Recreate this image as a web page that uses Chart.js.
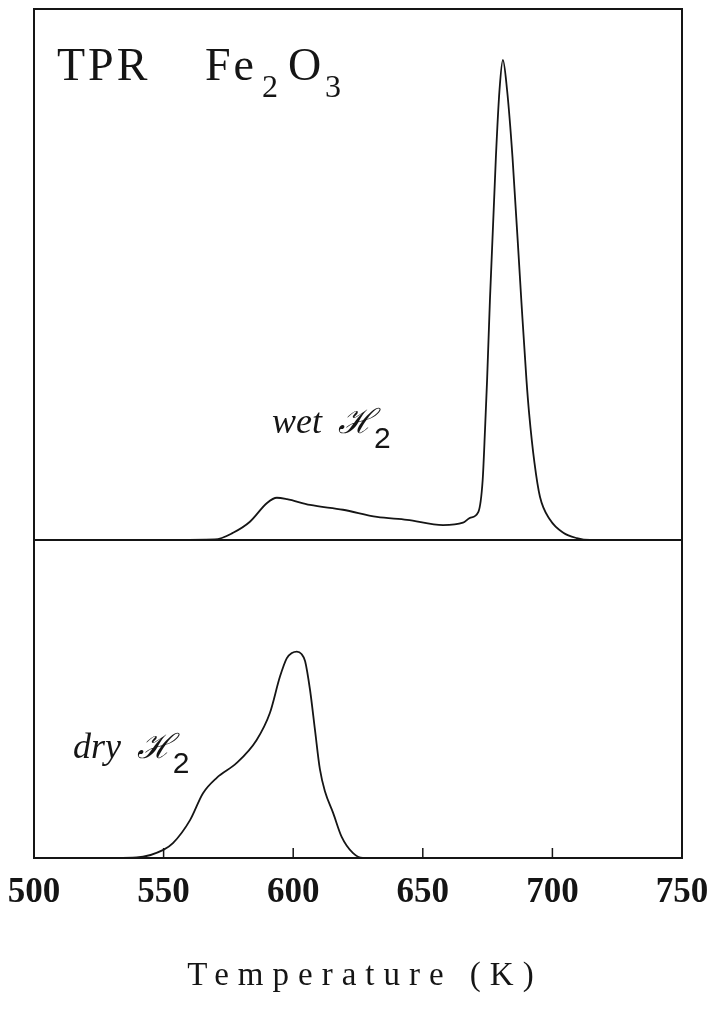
<!DOCTYPE html>
<html>
<head>
<meta charset="utf-8">
<title>TPR Fe2O3</title>
<script src="https://cdn.jsdelivr.net/npm/chart.js@4.4.1/dist/chart.umd.min.js"></script>
<style>
    html, body { margin: 0; padding: 0; background: #fff; }
    canvas { display: block; }
</style>
</head>
<body>
<canvas id="tpr" width="715" height="1009"></canvas>
<script>
// Temperature (K) and H2 consumption signal (a.u., wet peak = 100)
const wetTemps = [550, 569.8, 576.8, 583.3, 589.9, 593.7, 597.6, 606.5, 619.2, 632.3, 643.9, 657.8,
    665.5, 668.2, 671.4, 673.1, 674.0, 674.8, 675.9, 678.2, 679.6, 680.9, 682.5, 684.6, 688.0,
    690.0, 691.0, 693.1, 695.2, 699.1, 704.2, 709.4, 714.5, 730];
const wetSignal = [0, 0.1, 1.5, 3.8, 7.7, 8.8, 8.5, 7.3, 6.3, 4.8, 4.2, 3.1,
    3.6, 4.6, 5.8, 12.5, 22.9, 33.3, 50, 79.8, 93.8, 100, 93.8, 79.8, 50,
    33.3, 26.5, 16.0, 9.0, 4.2, 1.5, 0.4, 0, 0];

const dryTemps = [530, 539.6, 549.9, 553.6, 560.2, 565.2, 570.5, 578.2, 585.9, 591, 594.9,
    597.5, 599.5, 601.4, 603.2, 604.6, 606.5, 608.4, 610.3, 612.3, 615.4, 618.7, 623.1, 626.9, 640];
const drySignal = [0, 0.1, 1.7, 3.1, 7.9, 13.5, 16.7, 19.8, 24.6, 30.2, 37.8,
    41.6, 42.7, 43.0, 42.5, 41.0, 35.0, 26.7, 18.5, 13.8, 9.4, 4.4, 1.0, 0, 0];

const tickTemps = [500, 550, 600, 650, 700, 750];
const innerTicks = [550, 600, 650, 700];

// wet curve is drawn above the dry one, on its own baseline
const WET_OFFSET = 66.25;
const Y_MAX = 176.875;

const INK = "#151515";

function points(temps, values, offset) {
    return temps.map((t, i) => ({ x: t, y: values[i] + offset }));
}

// italic label with a script H and a subscript 2
function drawGasLabel(ctx, word, x, y) {
    ctx.font = "italic 36px 'Liberation Serif'";
    ctx.fillText(word, x, y);
    let cx = x + ctx.measureText(word).width + 16;
    ctx.font = "italic 34px 'DejaVu Serif'";
    ctx.fillText("\u210B", cx, y);
    cx += ctx.measureText("\u210B").width;
    ctx.font = "30px 'Liberation Sans'";
    ctx.fillText("2", cx, y + 15);
}

const framePlugin = {
    id: "frame",
    afterDraw(chart) {
        const ctx = chart.ctx;
        const area = chart.chartArea;
        const xs = chart.scales.x;
        const ys = chart.scales.y;
        ctx.save();
        ctx.strokeStyle = INK;
        ctx.fillStyle = INK;

        // box and divider between the two curves
        ctx.lineWidth = 2;
        ctx.strokeRect(area.left, area.top, area.right - area.left, area.bottom - area.top);
        const midY = ys.getPixelForValue(WET_OFFSET);
        ctx.lineWidth = 1.8;
        ctx.beginPath();
        ctx.moveTo(area.left, midY);
        ctx.lineTo(area.right, midY);
        ctx.stroke();

        // inward tick marks
        ctx.lineWidth = 1.5;
        for (const t of innerTicks) {
            const px = xs.getPixelForValue(t);
            ctx.beginPath();
            ctx.moveTo(px, area.bottom);
            ctx.lineTo(px, area.bottom - 10);
            ctx.stroke();
        }

        // heading in the corner
        ctx.textBaseline = "alphabetic";
        ctx.textAlign = "left";
        ctx.letterSpacing = "3px";
        ctx.font = "46px 'Liberation Serif'";
        ctx.fillText("TPR", area.left + 23, area.top + 71);
        ctx.fillText("Fe", area.left + 171, area.top + 71);
        ctx.fillText("O", area.left + 254, area.top + 71);
        ctx.font = "32px 'Liberation Serif'";
        ctx.fillText("2", area.left + 228, area.top + 88);
        ctx.fillText("3", area.left + 291, area.top + 88);
        ctx.letterSpacing = "0px";

        // curve labels
        drawGasLabel(ctx, "wet", xs.getPixelForValue(591.8), ys.getPixelForValue(WET_OFFSET + 22.3));
        drawGasLabel(ctx, "dry", xs.getPixelForValue(515), ys.getPixelForValue(20.8));

        // axis title
        ctx.textAlign = "center";
        ctx.letterSpacing = "9px";
        ctx.font = "33px 'Liberation Serif'";
        ctx.fillText("Temperature (K)", (area.left + area.right) / 2 + 7, 985);
        ctx.restore();
    }
};

new Chart(document.querySelector("#tpr"), {
    type: "line",
    data: {
        datasets: [
            {
                label: "wet H2",
                data: points(wetTemps, wetSignal, WET_OFFSET),
            },
            {
                label: "dry H2",
                data: points(dryTemps, drySignal, 0),
            },
        ],
    },
    options: {
        responsive: false,
        animation: false,
        devicePixelRatio: 1,
        layout: { padding: { left: 34, right: 33, top: 9, bottom: 0 } },
        elements: {
            line: { borderColor: INK, borderWidth: 1.8, cubicInterpolationMode: "monotone", fill: false },
            point: { radius: 0 },
        },
        plugins: {
            legend: { display: false },
            tooltip: { enabled: false },
        },
        scales: {
            x: {
                type: "linear",
                min: tickTemps[0],
                max: tickTemps[tickTemps.length - 1],
                afterBuildTicks: scale => {
                    scale.ticks = tickTemps.map(v => ({ value: v }));
                },
                afterFit: scale => {
                    scale.height = 151;
                },
                grid: { display: false },
                border: { display: false },
                ticks: {
                    color: INK,
                    padding: 6,
                    maxRotation: 0,
                    autoSkip: false,
                    font: { family: "'Liberation Serif'", size: 35, weight: "bold" },
                },
            },
            y: {
                display: false,
                min: 0,
                max: Y_MAX,
            },
        },
    },
    plugins: [framePlugin],
});
</script>
</body>
</html>
